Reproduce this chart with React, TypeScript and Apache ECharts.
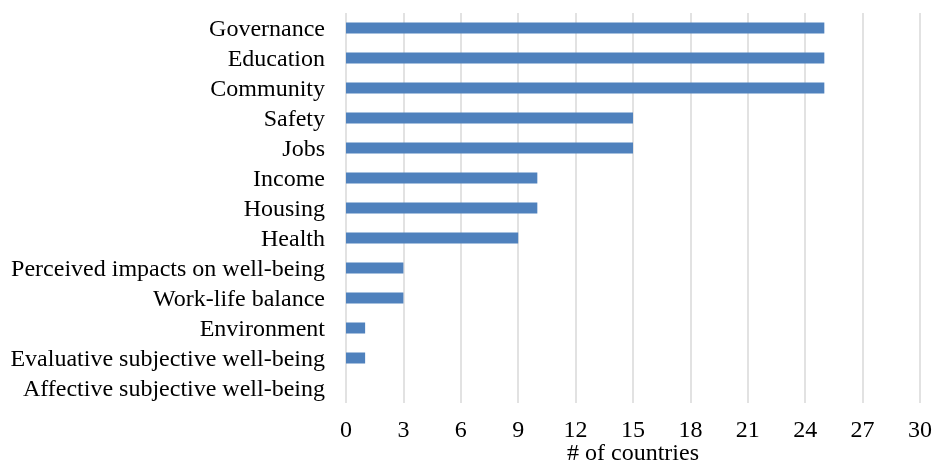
import React, { useEffect, useRef } from "react";
import * as echarts from "echarts";

const categories = [
  "Governance",
  "Education",
  "Community",
  "Safety",
  "Jobs",
  "Income",
  "Housing",
  "Health",
  "Perceived impacts on well-being",
  "Work-life balance",
  "Environment",
  "Evaluative subjective well-being",
  "Affective subjective well-being",
];
const values = [25, 25, 25, 15, 15, 10, 10, 9, 3, 3, 1, 1, 0];
const axisName = "# of countries";

export default function App() {
  const ref = useRef<HTMLDivElement>(null);
  useEffect(() => {
    if (!ref.current) return;
    const chart = echarts.init(ref.current, undefined, { renderer: "svg" });
    const font = "Liberation Serif";
    chart.setOption({
      animation: false,
      grid: {
        left: 346,
        right: 16,
        top: 13,
        bottom: 63,
        containLabel: false,
        outerBoundsMode: "none",
      },
      xAxis: {
        type: "value",
        min: 0,
        max: 30,
        interval: 3,
        name: axisName,
        nameLocation: "middle",
        nameGap: 38,
        nameMoveOverlap: false,
        nameTextStyle: { fontFamily: font, fontSize: 24, lineHeight: 22, color: "#000" },
        axisLine: { show: false },
        axisTick: { show: false },
        axisLabel: { fontFamily: font, fontSize: 24, lineHeight: 22, color: "#000", margin: 15 },
        splitLine: { lineStyle: { color: "#d9d9d9", width: 1.5 } },
      },
      yAxis: {
        type: "category",
        data: categories,
        inverse: true,
        axisLine: { show: false },
        axisTick: { show: false },
        axisLabel: {
          fontFamily: font,
          fontSize: 24,
          color: "#000",
          margin: 21,
          interval: 0,
        },
      },
      series: [
        {
          type: "bar",
          data: values,
          barWidth: 11,
          itemStyle: { color: "#4f81bd" },
        },
      ],
    });
    return () => chart.dispose();
  }, []);
  return (
    <div
      ref={ref}
      style={{ position: "fixed", left: 0, top: 0, width: 936, height: 466 }}
    />
  );
}
